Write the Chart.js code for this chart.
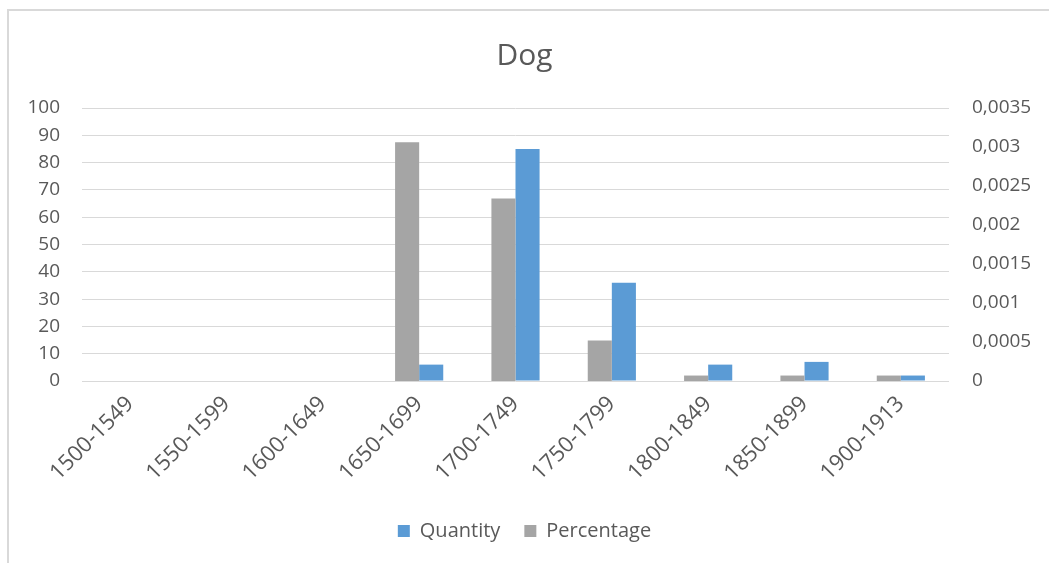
<!DOCTYPE html>
<html>
<head>
<meta charset="utf-8">
<script src="https://cdn.jsdelivr.net/npm/chart.js@4/dist/chart.umd.min.js"></script>
<style>
  body { margin: 0; background: #fff; }
  #wrap { position: relative; width: 1049px; height: 563px; }
  #frame { position: absolute; left: 7px; top: 9px; right: -5px; bottom: -5px;
           border-left: 2px solid #d9d9d9; border-top: 2px solid #d9d9d9; }
  canvas { position: absolute; left: 0; top: 0; }
</style>
</head>
<body>
<div id="wrap">
  <div id="frame"></div>
  <canvas id="dog_bar" width="1049" height="563"></canvas>
</div>
<script>
// categories and values
categories = ['1500-1549', '1550-1599', '1600-1649', '1650-1699', '1700-1749',
              '1750-1799', '1800-1849', '1850-1899', '1900-1913']
quantity = [0, 0, 0, 6, 85, 36, 6, 7, 2]
percentage = [0, 0, 0, 0.00306, 0.00234, 0.00052, 0.00007, 0.00007, 0.00007]

textColor = '#595959'
fontName = "'Open Sans', 'Noto Sans', sans-serif"

chartdata = {
  labels: categories,
  datasets: [{
    label: 'Percentage',
    backgroundColor: '#a5a5a5',
    data: percentage,
    yAxisID: 'y2'
  }, {
    label: 'Quantity',
    backgroundColor: '#5b9bd5',
    data: quantity,
    yAxisID: 'y'
  }]
};

config = {
  type: 'bar',
  data: chartdata,
  options: {
    responsive: false,
    animation: false,
    categoryPercentage: 0.5,
    barPercentage: 1,
    layout: { padding: { bottom: 12 } },
    plugins: {
      title: {
        display: true,
        text: 'Dog',
        color: textColor,
        font: { family: fontName, size: 30, weight: 'normal' },
        padding: { top: 38, bottom: 34 }
      },
      legend: {
        position: 'bottom',
        reverse: true,
        labels: {
          color: textColor,
          font: { family: fontName, size: 20 },
          boxWidth: 12,
          boxHeight: 12,
          padding: 24
        }
      },
      tooltip: { enabled: false }
    },
    scales: {
      x: {
        grid: { display: false },
        border: { display: false },
        ticks: {
          color: textColor,
          font: { family: fontName, size: 22 },
          maxRotation: 45,
          minRotation: 45,
          padding: 2
        },
        afterFit: function(scale) { scale.height = 116; }
      },
      y: {
        position: 'left',
        min: 0,
        max: 100,
        ticks: {
          stepSize: 10,
          color: textColor,
          font: { family: fontName, size: 19 },
          padding: 22
        },
        grid: { color: '#d9d9d9', drawTicks: false },
        border: { display: false },
        afterFit: function(scale) { scale.width = 82; }
      },
      y2: {
        position: 'right',
        min: 0,
        max: 0.0035,
        ticks: {
          stepSize: 0.0005,
          color: textColor,
          font: { family: fontName, size: 19 },
          padding: 23,
          callback: function(v) { return String(+v.toFixed(4)).replace('.', ','); }
        },
        grid: { display: false, drawTicks: false },
        border: { display: false },
        afterFit: function(scale) { scale.width = 100; }
      }
    }
  }
};

var myChart = new Chart(document.getElementById('dog_bar'), config);
</script>
</body>
</html>
